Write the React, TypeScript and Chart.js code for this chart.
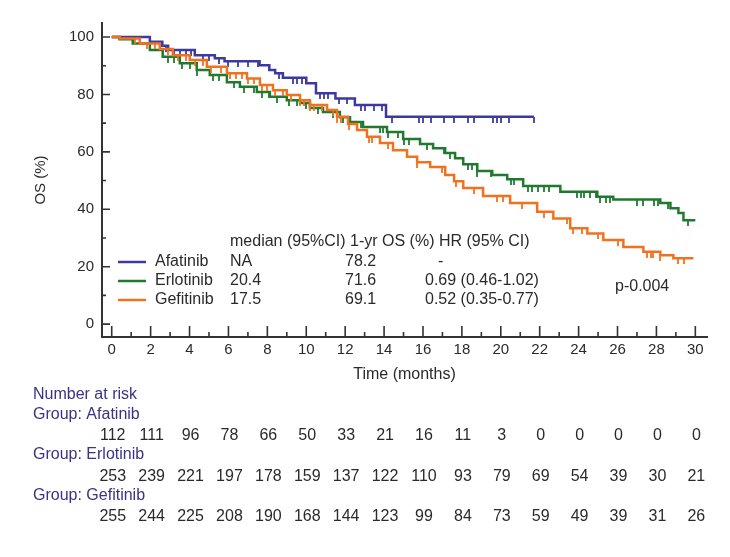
import React, { useEffect, useRef } from "react";
import { Chart, registerables } from "chart.js";

Chart.register(...registerables);

// ---------------- data ----------------
const seriesNames = ["Afatinib", "Erlotinib", "Gefitinib"];

const afatinibTime = [0, 1.96, 2.6, 2.9, 4.27, 5.3, 5.8, 7.6, 8.1, 8.4, 8.8, 10.0, 10.5, 11.5, 12.5, 14.1, 21.7];
const afatinibSurv = [100, 98.4, 97.0, 95.5, 93.7, 92.6, 91.6, 90.2, 88.5, 87.4, 85.8, 83.9, 80.4, 78.6, 76.3, 72.2, 72.2];
const afatinibCensor = [2.8, 3.2, 3.5, 3.8, 4.1, 4.7, 5.0, 5.5, 6.0, 6.5, 7.0, 7.5, 8.6, 9.3, 9.5, 9.8, 10.7, 10.9, 11.1, 11.7, 12.1, 12.8, 13.0, 13.5, 13.9, 14.4, 15.8, 16.0, 16.4, 17.1, 17.6, 18.3, 18.6, 19.6, 19.8, 20.0, 20.4, 21.7];

const erlotinibTime = [0, 0.4, 1.08, 1.96, 2.62, 3.5, 4.37, 5.04, 5.92, 6.59, 7.46, 8.13, 9.0, 9.68, 10.19, 10.86, 11.73, 12.25, 12.92, 14.15, 14.98, 15.85, 16.52, 17.14, 17.65, 18.07, 18.79, 19.56, 20.33, 21.15, 23.06, 24.96, 25.78, 28.2, 28.72, 29.13, 29.39, 30.0];
const erlotinibSurv = [100, 99.2, 97.8, 95.5, 93.1, 90.9, 88.5, 86.8, 84.3, 82.7, 80.9, 79.2, 78.0, 77.0, 75.3, 73.9, 72.1, 70.4, 68.7, 66.9, 64.5, 62.7, 61.3, 59.6, 57.8, 55.7, 53.3, 51.9, 50.5, 48.1, 46.1, 44.4, 43.4, 42.2, 40.4, 38.7, 36.2, 36.2];
const erlotinibCensor = [2.9, 3.2, 3.6, 4.0, 4.4, 5.2, 5.5, 6.3, 6.8, 7.3, 7.7, 8.1, 8.5, 9.1, 9.5, 10.0, 10.6, 11.4, 11.9, 12.8, 12.9, 13.8, 13.95, 14.2, 14.7, 15.0, 15.3, 16.2, 17.1, 17.4, 18.3, 18.5, 18.8, 19.5, 20.5, 20.7, 21.4, 21.6, 21.9, 22.2, 22.5, 23.9, 24.1, 24.3, 24.6, 24.9, 25.1, 25.4, 25.6, 27.0, 27.3, 27.9, 28.1, 28.6, 29.6];

const gefitinibTime = [0, 0.41, 1.44, 2.47, 3.14, 4.01, 4.89, 5.92, 6.95, 7.62, 8.29, 9.0, 9.68, 10.19, 11.07, 11.58, 12.15, 12.61, 13.12, 13.79, 14.46, 15.18, 15.7, 16.37, 17.14, 17.6, 18.07, 19.09, 20.48, 21.87, 22.7, 23.57, 24.45, 25.27, 26.3, 27.33, 28.2, 28.87, 29.9];
const gefitinibSurv = [100, 99.5, 97.8, 95.8, 93.7, 92.0, 89.7, 87.4, 85.6, 83.3, 81.5, 79.8, 78.0, 76.3, 74.6, 72.2, 69.7, 67.6, 65.3, 63.1, 60.6, 58.3, 56.4, 54.7, 51.9, 49.8, 47.4, 44.6, 42.2, 39.1, 36.8, 33.4, 31.6, 29.3, 26.9, 25.2, 24.0, 22.9, 22.9];
const gefitinibCensor = [1.2, 1.8, 2.2, 2.9, 3.4, 3.8, 4.3, 4.7, 5.1, 5.6, 6.1, 6.4, 6.7, 7.0, 7.3, 7.7, 8.0, 8.4, 8.8, 9.2, 9.7, 9.9, 10.2, 10.4, 10.8, 11.4, 11.6, 11.8, 12.2, 12.6, 13.2, 13.4, 14.2, 15.7, 17.0, 17.7, 18.6, 19.8, 20.1, 21.1, 22.2, 23.4, 23.7, 24.2, 25.0, 26.0, 27.5, 27.7, 27.8, 28.2, 29.1, 29.4];

const xTickValues = [0, 2, 4, 6, 8, 10, 12, 14, 16, 18, 20, 22, 24, 26, 28, 30];
const xTickLabels = ["0", "2", "4", "6", "8", "10", "12", "14", "16", "18", "20", "22", "24", "26", "28", "30"];
const yTickValues = [0, 20, 40, 60, 80, 100];
const yTickLabels = ["0", "20", "40", "60", "80", "100"];

const tableHeader = "median (95%CI) 1-yr OS (%) HR (95% CI)";
const medianText = ["NA", "20.4", "17.5"];
const oneYearText = ["78.2", "71.6", "69.1"];
const hrText = ["-", "0.69 (0.46-1.02)", "0.52 (0.35-0.77)"];
const pValueText = "p-0.004";

const riskTitle = "Number at risk";
const riskGroupLabels = ["Group: Afatinib", "Group: Erlotinib", "Group: Gefitinib"];
const riskMonths = [0, 2, 4, 6, 8, 10, 12, 14, 16, 18, 20, 22, 24, 26, 28, 30];
const afatinibRisk = [112, 111, 96, 78, 66, 50, 33, 21, 16, 11, 3, 0, 0, 0, 0, 0];
const erlotinibRisk = [253, 239, 221, 197, 178, 159, 137, 122, 110, 93, 79, 69, 54, 39, 30, 21];
const gefitinibRisk = [255, 244, 225, 208, 190, 168, 144, 123, 99, 84, 73, 59, 49, 39, 31, 26];

// ---------------- style ----------------
const FONT = "'Liberation Sans', Arial, Helvetica, sans-serif";
const COLORS = ["#3d3a9f", "#1f7a2f", "#f2711f"];
const AXIS_COLOR = "#333333";
const TEXT_COLOR = "#2a2a2a";
const RISK_LABEL_COLOR = "#3b3286";

function survivalAt(times: number[], surv: number[], t: number): number {
  let v = surv[0];
  for (let i = 0; i < times.length; i++) {
    if (times[i] <= t + 1e-9) v = surv[i];
    else break;
  }
  return v;
}

function censorMark(color: string): HTMLCanvasElement {
  const c = document.createElement("canvas");
  c.width = 2;
  c.height = 12;
  const g = c.getContext("2d")!;
  g.fillStyle = color;
  g.globalAlpha = 0.9;
  g.fillRect(0, 6, 2, 6);
  return c;
}

const overlayPlugin = {
  id: "kmOverlay",
  afterDraw(chart: any) {
    const { ctx, scales } = chart;
    const xs = scales.x;
    const ys = scales.y;
    const area = chart.chartArea;
    ctx.save();

    // inside tick marks
    ctx.strokeStyle = AXIS_COLOR;
    ctx.lineWidth = 1.6;
    ctx.beginPath();
    xTickValues.forEach((v, i) => {
      const px = xs.getPixelForValue(v);
      ctx.moveTo(px, area.bottom);
      ctx.lineTo(px, area.bottom - 11);
      if (i < xTickValues.length - 1) {
        const m = xs.getPixelForValue((v + xTickValues[i + 1]) / 2);
        ctx.moveTo(m, area.bottom);
        ctx.lineTo(m, area.bottom - 5);
      }
    });
    yTickValues.forEach((v, i) => {
      const py = ys.getPixelForValue(v);
      ctx.moveTo(area.left, py);
      ctx.lineTo(area.left + 8, py);
      if (i < yTickValues.length - 1) {
        const m = ys.getPixelForValue((v + yTickValues[i + 1]) / 2);
        ctx.moveTo(area.left, m);
        ctx.lineTo(area.left + 4, m);
      }
    });
    ctx.stroke();

    // legend table in plot
    ctx.font = `16px ${FONT}`;
    ctx.textBaseline = "middle";
    ctx.textAlign = "left";
    ctx.fillStyle = TEXT_COLOR;
    ctx.fillText(tableHeader, 230, 242);
    const rowY = [262, 281, 300];
    const hrX = [438, 425, 425];
    seriesNames.forEach((name, i) => {
      const y = rowY[i];
      ctx.strokeStyle = COLORS[i];
      ctx.lineWidth = 2.5;
      ctx.beginPath();
      ctx.moveTo(118, y);
      ctx.lineTo(146, y);
      ctx.stroke();
      ctx.fillStyle = TEXT_COLOR;
      ctx.fillText(name, 155, y);
      ctx.fillText(medianText[i], 230, y);
      ctx.fillText(oneYearText[i], 345, y);
      ctx.fillText(hrText[i], hrX[i], y);
    });
    ctx.fillText(pValueText, 615, 287);

    // number at risk table
    ctx.fillStyle = RISK_LABEL_COLOR;
    ctx.fillText(riskTitle, 33, 395);
    const riskRows = [afatinibRisk, erlotinibRisk, gefitinibRisk];
    const groupY = [415, 455, 496];
    const valY = [436, 477, 517];
    riskRows.forEach((row, r) => {
      ctx.textAlign = "left";
      ctx.fillStyle = RISK_LABEL_COLOR;
      ctx.fillText(riskGroupLabels[r], 33, groupY[r]);
      ctx.textAlign = "center";
      ctx.fillStyle = TEXT_COLOR;
      row.forEach((n, k) => {
        ctx.fillText(String(n), xs.getPixelForValue(riskMonths[k]) + 1, valY[r]);
      });
    });
    ctx.restore();
  },
};

export default function App() {
  const ref = useRef<HTMLCanvasElement | null>(null);

  useEffect(() => {
    if (!ref.current) return;
    Chart.defaults.font.family = FONT;
    const curves = [
      { time: afatinibTime, surv: afatinibSurv, censor: afatinibCensor, color: COLORS[0], order: 3 },
      { time: erlotinibTime, surv: erlotinibSurv, censor: erlotinibCensor, color: COLORS[1], order: 2 },
      { time: gefitinibTime, surv: gefitinibSurv, censor: gefitinibCensor, color: COLORS[2], order: 1 },
    ];
    const lineSets = curves.map((c, i) => ({
      label: seriesNames[i],
      data: c.time.map((t, k) => ({ x: t, y: c.surv[k] })),
      stepped: true,
      borderColor: c.color,
      borderWidth: 2.5,
      pointRadius: 0,
      fill: false,
      order: c.order,
    }));
    const censorSets = curves.map((c, i) => ({
      label: seriesNames[i] + " censored",
      data: c.censor.map((t) => ({ x: t, y: survivalAt(c.time, c.surv, t) })),
      showLine: false,
      pointStyle: censorMark(c.color),
      pointRadius: 3,
      borderColor: c.color,
      backgroundColor: c.color,
      order: c.order - 0.5,
    }));

    const chart = new Chart(ref.current, {
      type: "line",
      data: { datasets: [...lineSets, ...censorSets] as any },
      options: {
        animation: false,
        responsive: false,
        layout: { padding: { left: 0, top: 23, right: 23, bottom: 170 } },
        plugins: { legend: { display: false }, tooltip: { enabled: false } },
        scales: {
          x: {
            type: "linear",
            min: -0.5,
            max: 30.6,
            grid: { display: false, drawTicks: false },
            border: { display: true, color: AXIS_COLOR, width: 2 },
            ticks: {
              autoSkip: false,
              maxRotation: 0,
              padding: 4,
              color: TEXT_COLOR,
              font: { size: 15, family: FONT },
              callback: (_v: any, i: number) => xTickLabels[i],
            },
            afterBuildTicks: (s: any) => {
              s.ticks = xTickValues.map((v) => ({ value: v }));
            },
            afterFit: (s: any) => {
              s.height = 50;
              s.paddingLeft = 0;
              s.paddingRight = 0;
              s.paddingTop = 0;
              s.paddingBottom = 0;
            },
            title: {
              display: true,
              text: "Time (months)",
              color: TEXT_COLOR,
              font: { size: 16, family: FONT },
              padding: { top: 0, bottom: 3 },
            },
          },
          y: {
            type: "linear",
            min: -4.5,
            max: 104.9,
            grid: { display: false, drawTicks: false },
            border: { display: true, color: AXIS_COLOR, width: 2 },
            ticks: {
              padding: 8,
              color: TEXT_COLOR,
              font: { size: 15, family: FONT },
              callback: (_v: any, i: number) => yTickLabels[i],
            },
            afterBuildTicks: (s: any) => {
              s.ticks = yTickValues.map((v) => ({ value: v }));
            },
            afterFit: (s: any) => {
              s.width = 102;
              s.paddingLeft = 0;
              s.paddingRight = 0;
              s.paddingTop = 0;
              s.paddingBottom = 0;
            },
            title: {
              display: true,
              text: "OS (%)",
              color: TEXT_COLOR,
              font: { size: 15, family: FONT },
              padding: { top: 32, bottom: 0 },
            },
          },
        },
      },
      plugins: [overlayPlugin],
    } as any);
    return () => chart.destroy();
  }, []);

  return (
    <div style={{ position: "fixed", left: 0, top: 0, width: 730, height: 557, background: "#fff" }}>
      <canvas ref={ref} width={730} height={557} style={{ display: "block" }} />
    </div>
  );
}
